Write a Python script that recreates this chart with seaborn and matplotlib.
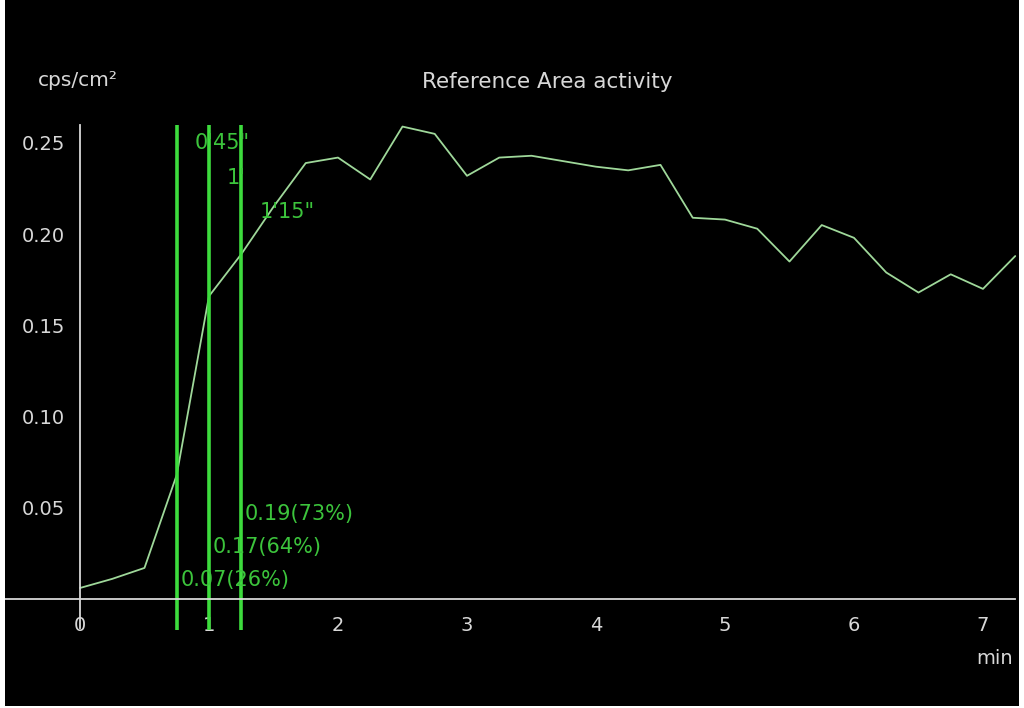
import matplotlib
matplotlib.use("Agg")
import matplotlib.pyplot as plt
from matplotlib.patches import Rectangle
import numpy as np
import pandas as pd
import seaborn as sns

# Time-activity curve of the reference area, sampled every 15 s
minutes = [0.0, 0.25, 0.5, 0.75, 1.0, 1.25, 1.5, 1.75, 2.0, 2.25, 2.5, 2.75,
           3.0, 3.25, 3.5, 3.75, 4.0, 4.25, 4.5, 4.75, 5.0, 5.25, 5.5, 5.75,
           6.0, 6.25, 6.5, 6.75, 7.0, 7.25]
activity = [0.006, 0.011, 0.017, 0.068, 0.166, 0.189, 0.215, 0.239, 0.242, 0.230,
            0.259, 0.255, 0.232, 0.242, 0.243, 0.240, 0.237, 0.235, 0.238, 0.209,
            0.208, 0.203, 0.185, 0.205, 0.198, 0.179, 0.168, 0.178, 0.170, 0.188]

# Marker times (minutes) and their labels
marker_times = [0.75, 1.0, 1.25]
marker_labels = ["0'45\"", "1'", "1'15\""]

x_ticks = [0, 1, 2, 3, 4, 5, 6, 7]
y_ticks = [0.05, 0.10, 0.15, 0.20, 0.25]

FG = "#d8d8d8"
CURVE = "#9fd89a"
MARK = "#3ddc3d"
MARK_TXT = "#3cc43c"

sns.set_style("dark", {"axes.facecolor": "black", "figure.facecolor": "black"})
plt.rcParams["font.family"] = ["DejaVu Sans"]

fig = plt.figure(figsize=(10.24, 7.08), dpi=100, facecolor="black")
ax = fig.add_axes([0, 0, 1, 1])
ax.set_facecolor("black")

df = pd.DataFrame({"min": minutes, "cps": activity})
sns.lineplot(data=df, x="min", y="cps", ax=ax, color=CURVE, lw=1.3)

ax.set_xlim(-0.62, 7.318)
ax.set_ylim(-0.0598, 0.3284)

# Axis lines crossing at the origin
for side in ("top", "right"):
    ax.spines[side].set_visible(False)
ax.spines["left"].set_position(("data", 0))
ax.spines["bottom"].set_position(("data", 0))
ax.spines["left"].set_bounds(-0.016, 0.26)
ax.spines["bottom"].set_bounds(-0.58, 7.25)
for side in ("left", "bottom"):
    ax.spines[side].set_color(FG)
    ax.spines[side].set_linewidth(1.3)

ax.set_xticks(x_ticks)
ax.set_xticks(np.arange(0.5, 7.5, 1.0), minor=True)
ax.set_yticks(y_ticks)
ax.set_yticklabels([f"{v:.2f}" for v in y_ticks])
ax.tick_params(axis="both", which="both", direction="out", length=8, width=1.2,
               color=FG, labelcolor=FG, labelsize=14)
ax.tick_params(axis="x", which="both", pad=4)
ax.tick_params(axis="y", pad=3)
ax.grid(False)
ax.set_xlabel("")
ax.set_ylabel("")

# Vertical markers with times at the top and values at the bottom
peak = max(activity)
for i, (t, lab) in enumerate(zip(marker_times, marker_labels)):
    v = activity[minutes.index(t)]
    ax.vlines(t, -0.017, 0.26, color=MARK, lw=2.6)
    ax.text(t + 0.14, 0.25 - i * 0.019, lab, color=MARK_TXT, fontsize=15,
            ha="left", va="center")
    ax.text(t + 0.03, 0.0105 + i * 0.018, f"{v:.2f}({v / peak * 100:.0f}%)",
            color=MARK_TXT, fontsize=15, ha="left", va="center")

fig.text(78 / 1024, 1 - 80 / 708, "cps/cm²", color=FG, fontsize=14.5,
         ha="center", va="center")
fig.text(547 / 1024, 1 - 82 / 708, "Reference Area activity", color=FG,
         fontsize=15.5, ha="center", va="center")
fig.text(995 / 1024, 1 - 658 / 708, "min", color=FG, fontsize=14,
         ha="center", va="center")

# Thin white frame on the left, right and bottom edges
for (x0, y0, w, h) in [(0, 0, 5 / 1024, 1), (1 - 5 / 1024, 0, 5 / 1024, 1),
                       (0, 0, 1, 2 / 708)]:
    fig.add_artist(Rectangle((x0, y0), w, h, transform=fig.transFigure,
                             facecolor="white", edgecolor="none"))

fig.savefig("out.png", dpi=100, facecolor="black")
